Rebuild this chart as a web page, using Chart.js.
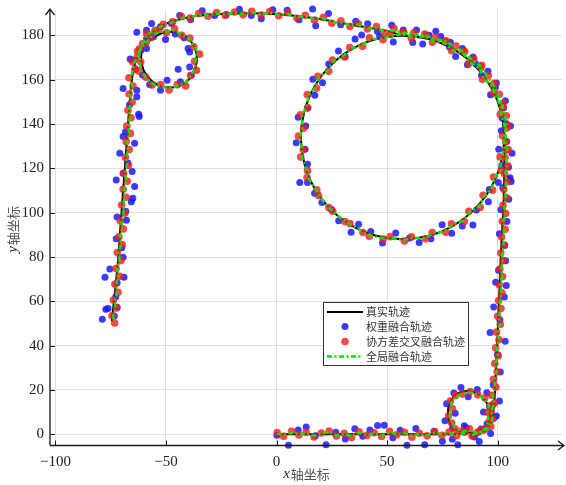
<!DOCTYPE html>
<html>
<head>
<meta charset="utf-8">
<script src="https://cdn.jsdelivr.net/npm/chart.js@4.4.1/dist/chart.umd.min.js"></script>
<style>
  html, body { margin: 0; padding: 0; background: #fff; }
</style>
</head>
<body>
<canvas id="trackChart" width="566" height="485"></canvas>
<script>
// Axis ticks
const xTicks = [-100, -50, 0, 50, 100];
const yTicks = [0, 20, 40, 60, 80, 100, 120, 140, 160, 180];

const seriesNames = ["真实轨迹", "权重融合轨迹", "协方差交叉融合轨迹", "全局融合轨迹"];

// Ground-truth trajectory [x, y]
const truePath = [
  [0,0],[20,0],[40,0],[60,0],[76,0],[84,0.2],[90,1],[94.5,3.5],[96.5,8],[95.5,13.5],[92,17.5],[87,19.5],
  [82,18.5],[78.5,14.5],[77.5,9],[79,4],[83,1.2],[89,0.5],[94,1.5],[97,5],[98.5,15],[99.2,29],[100.2,50],
  [101,70],[101.8,88],[102.7,105],[103,120],[103,134],
  [101.4,145.9],[96.8,157],[89.5,166.5],[80,173.8],[68.9,178.4],[57,180],[45.1,178.4],[34,173.8],[24.5,166.5],
  [17.2,157],[12.6,145.9],[11,134],[12.6,122.1],[17.2,111],[24.5,101.5],[34,94.2],[45.1,89.6],[57,88],
  [68.9,89.6],[80,94.2],[89.5,101.5],[96.8,111],[101.4,122.1],[103,134],[101.4,145.9],[96.8,157],[89.5,166.5],
  [80,173.8],[68.9,178.4],[57,180],
  [50,182],[40,183.8],[30,185.5],[20,187.3],[10,188.7],[0,189.6],[-10,190],[-20,189.9],[-30,189.4],[-38,188.6],
  [-44,187.2],[-50,185.3],[-55,182.5],[-59,178.5],[-61,173],[-61,167],[-58.5,161.5],[-54,157.8],[-48,156.5],
  [-42,158.2],[-38,162.5],[-36,168.5],[-37,174.5],[-40.5,179],[-46,181.5],[-52,181],[-57,178],[-61,174],
  [-63.5,169],[-65,163],[-66,155],[-67.5,135],[-69,115],[-70.5,95],[-72,75],[-74.5,51]
];

// Weighted fusion estimates
const weightedPts = [
  [0.2,-0.4],[5.4,-5.0],[9.8,1.9],[13.4,3.3],[17.6,-0.7],[22.4,-4.7],[26.8,0.9],[31.1,-2.1],[35.4,2.5],[39.0,-0.9],
  [42.2,1.9],[45.7,4.0],[48.7,4.1],[52.6,-1.6],[55.9,1.8],[59.0,-5.0],[63.0,2.6],[67.0,-4.7],[71.2,1.4],[75.0,-3.1],
  [79.5,-2.2],[82.0,-4.7],[85.8,2.9],[89.6,-1.2],[91.7,-3.2],[95.2,4.8],[98.3,7.5],[93.6,10.1],[97.9,13.4],[95.1,18.7],
  [90.8,20.2],[86.7,16.9],[83.4,21.1],[80.2,18.6],[76.9,13.8],[80.8,9.5],[76.2,6.1],[79.6,2.8],[84.9,3.9],[88.8,-0.5],
  [92.5,2.4],[96.8,0.3],
  [99.4,8.2],[100.8,15.0],[96.3,12.5],[98.0,22.4],[101.2,28.1],[99.9,36.0],[103.4,42.0],[96.6,45.9],[101.0,51.6],
  [98.2,57.5],[103.0,62.0],[99.1,68.6],[103.9,67.2],[103.6,78.3],[100.4,74.0],[103.1,85.2],[100.8,90.5],[104.2,96.0],
  [101.5,101.4],[105.0,106.1],[102.3,111.3],[105.6,115.8],[101.9,121.4],
  [103.9,140.3],[102.0,142.8],[101.7,137.0],[102.7,147.4],[96.8,153.2],[99.4,158.6],[92.7,162.1],[86.3,166.8],
  [88.9,170.3],[81.0,170.5],[78.6,176.9],[74.3,179.5],[72.0,181.9],[66.1,176.2],[61.6,176.8],[57.3,182.5],[52.8,177.1],
  [45.6,181.9],[38.5,180.2],[35.5,178.4],[31.0,170.5],[28.0,173.0],[23.6,167.1],[20.8,158.7],[16.4,160.2],[17.3,153.0],
  [14.0,147.2],[9.8,143.1],[13.2,139.2],[12.9,128.7],[8.9,131.6],[14.0,121.9],[10.5,113.6],[14.0,113.6],[17.2,108.8],
  [20.5,104.6],[24.9,101.5],[28.1,96.4],[33.7,91.2],[37.1,94.8],[42.6,91.5],[47.9,86.3],[53.9,90.8],[60.0,88.5],
  [64.5,86.6],[69.8,88.2],[74.9,94.6],[79.2,90.7],[84.0,94.0],[88.8,94.5],[90.4,101.2],[95.8,104.9],[96.2,110.5],
  [100.3,113.6],[104.9,115.0],[106.1,114.1],[104.9,120.5],[106.5,126.9],[100.5,128.7],[104.1,132.2],
  [105.8,139.2],[103.5,150.5],[98.9,156.4],[95.6,163.8],[90.1,167.1],[84.1,174.1],[78.2,174.8],[69.0,180.1],[63.3,182.5],
  [52.1,184.6],[46.6,179.6],[41.2,185.3],[35.8,186.4],[29.0,184.8],[23.5,189.9],[17.7,184.4],[16.3,192.0],[10.2,187.1],
  [4.8,191.4],[-1.7,191.6],[-6.9,187.6],[-11.4,189.0],[-16.8,191.8],[-22.7,189.5],[-28.0,189.0],[-33.6,191.2],
  [-38.9,187.1],[-43.8,189.0],
  [-47.5,185.4],[-52.5,183.9],[-56.5,185.4],[-58.8,182.4],[-55.7,179.4],[-63.2,181.5],[-58.8,174.1],[-64.7,168.8],
  [-60.6,162.2],[-63.9,165.0],[-57.4,157.9],[-52.5,155.3],[-49.5,159.8],[-43.5,159.1],[-38.5,162.1],[-44.5,164.8],
  [-39.3,165.8],[-39.3,172.6],[-40.0,174.1],[-41.8,179.0],[-45.8,180.7],[-50.2,178.2],[-58.8,178.5],[-61.4,173.3],
  [-66.2,169.4],
  [-69.4,156.1],[-63.2,155.3],[-63.2,152.3],[-66.5,148.7],[-62.4,144.4],[-62.1,143.4],[-68.3,136.6],[-69.4,134.4],
  [-64.2,131.4],[-70.9,126.9],[-67.2,122.4],[-65.3,118.6],[-69.4,117.8],[-72.5,114.8],[-64.2,111.8],[-65.0,106.5],
  [-65.7,105.0],[-68.2,100.7],[-72.1,98.1],[-67.9,96.6],[-72.5,88.3],[-70.0,84.2],[-69.4,79.9],[-75.4,74.6],
  [-77.6,70.9],[-69.0,70.9],[-72.1,68.4],[-72.7,62.1],[-77.2,56.4],[-76.2,56.8],[-72.1,57.3],[-73.4,53.4],[-78.8,51.9]
];

// Covariance intersection fusion estimates
const ciPts = [
  [0.3,0.8],[3.2,-0.9],[6.8,1.4],[10.1,-0.3],[13.4,0.9],[16.9,-1.2],[20.2,0.6],[23.8,1.5],[27.1,-0.8],[30.6,0.4],
  [33.9,-1.4],[37.3,1.1],[40.8,-0.5],[44.2,0.7],[47.5,-1.0],[51.1,1.3],[54.4,-0.2],[57.9,0.9],[61.2,-1.3],[64.6,0.5],
  [68.1,-0.7],[71.5,1.2],[74.8,-0.4],[78.0,1.0],
  [81.5,-0.6],[85.0,0.9],[88.4,-0.8],[91.6,1.3],[94.8,2.8],[96.4,6.2],[95.5,9.8],[96.8,13.0],[94.2,16.4],[91.0,17.8],
  [87.6,19.3],[84.1,18.2],[81.0,17.5],[78.6,15.0],[79.5,11.6],[77.8,8.4],[79.2,5.1],[80.8,2.4],[83.9,1.6],[87.2,2.5],
  [90.6,0.7],[93.8,1.9],[96.9,3.5],
  [97.8,7.0],[96.9,10.4],[98.6,14.1],[97.4,17.6],[99.2,21.3],[98.1,24.8],[99.8,28.2],[98.7,31.9],[100.3,35.4],
  [99.1,39.0],[100.6,42.7],[99.5,46.1],[101.2,49.6],[100.0,53.3],[101.5,56.8],[100.4,60.4],[101.9,63.9],[100.7,67.5],
  [102.2,71.2],[101.0,74.6],[102.5,78.3],[101.4,81.8],[103.1,85.4],[101.8,89.0],[103.4,92.5],[102.1,96.1],[103.6,99.7],
  [102.4,103.3],[104.0,106.8],[102.8,110.5],[104.3,114.0],[103.1,117.6],[104.6,121.2],[103.3,124.8],[104.8,128.4],
  [103.6,132.0],
  [104.1,138.2],[101.2,144.5],[102.3,147.6],[98.1,153.9],[98.0,157.4],[93.1,160.2],[92.4,165.9],[86.9,167.4],
  [84.8,172.6],[79.2,173.1],[76.4,177.3],[70.5,176.9],[67.3,180.2],[61.0,178.8],[57.6,181.3],[51.5,180.4],[48.1,178.1],
  [42.0,178.9],[38.9,175.1],[33.1,174.6],[30.8,170.3],[25.3,168.9],[23.6,163.8],[18.7,161.6],[18.1,156.2],[13.9,153.3],
  [14.1,147.5],[10.8,144.2],[12.2,138.1],[9.9,134.6],[12.1,128.5],[10.9,125.1],[14.0,119.0],[13.8,115.9],[18.2,110.3],
  [19.0,107.8],[23.7,102.3],[25.4,100.7],[30.9,96.0],[33.2,95.1],[39.1,91.1],[42.0,89.4],[48.2,88.1],[51.4,89.2],
  [57.8,87.2],[61.0,89.1],[67.4,88.2],[70.4,91.1],[76.5,91.2],[79.1,95.0],[84.9,96.0],[87.0,100.7],[92.1,102.4],
  [93.4,107.9],[97.7,110.2],[98.1,116.1],[101.7,119.1],[101.1,125.2],[103.8,128.5],[102.2,134.7],
  [104.6,139.3],[103.9,143.8],[102.5,149.3],[100.8,153.4],[98.4,158.3],[95.8,162.0],[92.8,166.5],[89.2,169.4],
  [85.1,172.8],[81.2,175.2],[76.6,177.6],[71.9,179.1],[67.0,180.6],[62.1,181.2],[57.2,181.5],
  [53.1,183.2],[49.0,181.1],[45.2,184.0],[41.1,182.9],[37.0,185.3],[33.2,184.0],[29.1,186.6],[25.0,185.5],[21.2,188.2],
  [17.1,187.0],[13.0,189.1],[9.2,187.8],[5.1,190.3],[1.0,188.9],[-3.1,190.8],[-7.0,189.2],[-11.2,190.9],[-15.1,189.3],
  [-19.0,190.6],[-23.2,189.0],[-27.1,190.3],[-31.0,188.7],[-35.2,189.9],[-39.1,187.9],[-43.0,188.6],
  [-47.0,186.2],[-51.2,185.0],[-54.9,182.3],[-58.8,180.9],[-60.6,176.3],[-62.9,172.8],[-61.4,168.0],[-62.2,163.9],
  [-59.1,161.2],[-56.3,157.6],[-52.4,157.9],[-48.6,155.4],[-44.9,157.8],[-41.1,157.2],[-38.9,161.9],[-36.2,164.3],
  [-37.1,168.4],[-34.8,171.6],[-37.4,174.9],[-39.2,178.8],[-42.9,180.1],[-46.1,183.0],[-49.8,181.2],[-53.4,182.5],
  [-56.7,179.1],[-59.0,176.8],[-62.1,173.9],[-63.0,170.2],[-65.2,168.1],[-64.1,164.6],
  [-66.8,160.9],[-64.9,157.2],[-66.7,153.6],[-65.3,150.0],[-67.2,146.3],[-65.8,142.9],[-67.7,139.1],[-66.1,135.8],
  [-68.0,132.2],[-66.6,128.5],[-68.4,125.0],[-67.0,121.3],[-69.1,117.8],[-67.5,114.2],[-69.4,110.6],[-68.0,107.0],
  [-70.1,103.5],[-68.6,99.8],[-70.7,96.3],[-69.3,92.7],[-71.3,89.1],[-69.8,85.6],[-72.0,82.0],[-70.4,78.4],
  [-72.6,74.8],[-71.0,71.3],[-73.1,67.7],[-71.7,64.1],[-73.8,60.6],[-72.3,57.0],[-74.4,53.5],[-73.2,50.2]
];

// Global fusion estimates
const globalPts = [
  [0.2,0.4],[3.4,-0.4],[6.9,0.8],[10.2,-0.1],[13.5,0.6],[17.0,-0.7],[20.3,0.4],[23.7,0.9],[27.0,-0.5],[30.5,0.3],
  [34.0,-0.8],[37.4,0.7],[40.9,-0.3],[44.2,0.5],[47.6,-0.6],[51.0,0.8],[54.5,-0.1],[57.9,0.6],[61.3,-0.8],[64.7,0.3],
  [68.1,-0.4],[71.5,0.8],[74.9,-0.2],[78.1,0.6],
  [81.6,-0.3],[85.0,0.6],[88.4,-0.4],[91.7,0.9],[94.6,2.6],[95.9,6.0],[95.4,9.9],[96.1,13.1],[93.8,16.2],[90.9,17.9],
  [87.5,18.9],[84.2,18.3],[81.2,17.0],[79.0,14.6],[79.1,11.5],[78.3,8.3],[79.4,5.0],[80.9,2.7],[84.0,1.2],[87.3,1.8],
  [90.6,0.6],[93.8,1.4],[96.6,3.4],
  [97.7,7.1],[97.3,10.5],[98.4,14.1],[97.8,17.6],[98.9,21.2],[98.5,24.8],[99.5,28.3],[99.0,31.9],[100.1,35.4],
  [99.6,39.0],[100.5,42.6],[100.0,46.2],[101.0,49.7],[100.5,53.3],[101.4,56.8],[100.9,60.4],[101.7,63.9],[101.2,67.5],
  [102.0,71.1],[101.5,74.6],[102.3,78.2],[101.9,81.8],[102.8,85.4],[102.3,89.0],[103.1,92.6],[102.6,96.1],[103.4,99.7],
  [102.9,103.3],[103.7,106.8],[103.2,110.4],[104.0,114.0],[103.5,117.6],[104.2,121.2],[103.7,124.8],[104.3,128.4],
  [103.8,132.0],
  [103.4,138.5],[101.6,144.0],[101.5,147.9],[98.6,153.3],[97.4,157.2],[93.7,160.6],[91.8,165.3],[87.4,167.8],
  [84.4,171.9],[79.6,173.4],[76.0,176.6],[70.9,177.4],[67.0,179.6],[61.4,179.2],[57.3,180.6],[51.9,180.0],[47.8,178.6],
  [42.4,178.3],[38.6,175.6],[33.6,174.2],[30.4,170.8],[25.8,168.5],[23.2,164.3],[19.3,161.3],[17.6,156.6],[14.5,153.0],
  [13.6,147.9],[11.4,143.9],[11.7,138.5],[10.5,134.3],[11.7,128.9],[11.5,124.7],[13.6,119.4],[14.4,115.6],[17.7,110.7],
  [19.4,107.4],[23.2,102.8],[25.8,100.2],[30.4,96.4],[33.6,94.6],[38.7,91.6],[42.4,89.8],[47.8,88.6],[51.8,88.8],
  [57.4,87.6],[61.4,88.7],[67.0,88.6],[70.8,90.6],[76.1,91.6],[79.6,94.6],[84.4,96.4],[87.4,100.2],[91.6,102.8],
  [93.8,107.4],[97.2,110.6],[98.6,115.7],[101.2,119.5],[101.6,124.8],[103.2,128.9],[102.6,134.4],
  [104.2,139.1],[103.3,143.6],[102.1,149.1],[100.3,153.1],[97.9,158.1],[95.4,161.5],[92.3,166.2],[88.9,168.6],
  [84.9,172.5],[80.9,174.6],[76.5,177.4],[71.6,178.5],[66.9,180.2],[62.0,180.5],[57.1,181.2],
  [53.0,182.5],[49.1,181.6],[45.1,183.5],[41.1,183.2],[37.0,184.9],[33.1,184.6],[29.1,186.1],[25.1,186.0],[21.1,187.7],
  [17.1,187.5],[13.0,188.6],[9.1,188.3],[5.1,189.7],[1.0,189.3],[-3.0,190.3],[-7.0,189.6],[-11.1,190.4],[-15.0,189.7],
  [-19.0,190.2],[-23.1,189.4],[-27.1,189.9],[-31.0,189.0],[-35.1,189.4],[-39.0,188.2],[-42.9,187.9],
  [-46.9,186.0],[-51.0,184.8],[-54.8,182.7],[-58.4,180.4],[-60.4,176.5],[-62.3,172.5],[-61.6,168.2],[-61.5,164.1],
  [-59.0,161.0],[-56.0,158.2],[-52.5,157.3],[-48.7,156.0],[-44.9,157.3],[-41.5,158.4],[-38.9,161.9],[-36.7,165.1],
  [-36.8,168.6],[-35.5,171.9],[-37.3,175.3],[-39.5,178.5],[-43.0,180.4],[-46.3,182.3],[-49.8,181.7],[-53.3,181.6],
  [-56.5,179.3],[-59.1,176.6],[-61.7,173.6],[-63.0,170.0],[-64.6,167.4],[-64.7,164.4],
  [-66.2,160.7],[-65.3,157.1],[-66.3,153.5],[-65.6,150.0],[-66.9,146.3],[-66.2,142.9],[-67.3,139.1],[-66.6,135.8],
  [-67.7,132.2],[-67.0,128.5],[-68.1,125.0],[-67.5,121.3],[-68.6,117.8],[-68.0,114.2],[-69.1,110.6],[-68.5,107.0],
  [-69.7,103.5],[-69.1,99.8],[-70.3,96.3],[-69.7,92.7],[-70.9,89.1],[-70.3,85.6],[-71.5,82.0],[-70.9,78.4],
  [-72.1,74.8],[-71.5,71.3],[-72.6,67.7],[-72.1,64.1],[-73.3,60.6],[-72.8,57.0],[-73.9,53.5],[-73.5,50.4]
];

function toXY(pts) {
  return pts.map(p => ({ x: p[0], y: p[1] }));
}

const tickFont = { family: "'Liberation Serif', 'DejaVu Serif', serif", size: 15 };
const cjkFont = "'Noto Sans CJK SC', sans-serif";
const minusSign = v => String(v).replace("-", "\u2212");

// Axis lines with arrows, inward ticks, axis titles and the boxed legend
const axisDecor = {
  id: "axisDecor",
  afterDraw(chart) {
    const { ctx, chartArea: a, scales } = chart;
    const xs = scales.x, ys = scales.y;
    ctx.save();

    ctx.strokeStyle = "#1a1a1a";
    ctx.lineWidth = 1.3;
    ctx.beginPath();
    ctx.moveTo(a.left, a.bottom); ctx.lineTo(a.right + 2, a.bottom);
    ctx.moveTo(a.left, a.bottom); ctx.lineTo(a.left, a.top - 1);
    // arrow heads
    ctx.moveTo(a.right - 4, a.bottom - 4.5); ctx.lineTo(a.right + 2, a.bottom); ctx.lineTo(a.right - 4, a.bottom + 4.5);
    ctx.moveTo(a.left - 4.5, a.top + 5); ctx.lineTo(a.left, a.top - 1); ctx.lineTo(a.left + 4.5, a.top + 5);
    ctx.stroke();

    ctx.lineWidth = 1;
    ctx.beginPath();
    xTicks.forEach(v => {
      const px = Math.round(xs.getPixelForValue(v)) + 0.5;
      ctx.moveTo(px, a.bottom); ctx.lineTo(px, a.bottom - 5);
    });
    yTicks.forEach(v => {
      const py = Math.round(ys.getPixelForValue(v)) + 0.5;
      ctx.moveTo(a.left, py); ctx.lineTo(a.left + 5, py);
    });
    ctx.stroke();

    // axis titles: italic letter followed by the Chinese label
    function drawTitle(letter, cx, cy, angle) {
      ctx.save();
      ctx.translate(cx, cy);
      ctx.rotate(angle);
      ctx.textBaseline = "middle";
      ctx.font = "italic 15px 'Liberation Serif', serif";
      const w1 = ctx.measureText(letter).width;
      ctx.font = "13px " + cjkFont;
      const w2 = ctx.measureText("轴坐标").width;
      let x0 = -(w1 + w2) / 2;
      ctx.fillStyle = "#222";
      ctx.font = "italic 15px 'Liberation Serif', serif";
      ctx.fillText(letter, x0, 0);
      ctx.fillStyle = "#555";
      ctx.font = "13px " + cjkFont;
      ctx.fillText("轴坐标", x0 + w1 + 1, 0);
      ctx.restore();
    }
    drawTitle("x", 306, 474, 0);
    drawTitle("y", 13, 230, -Math.PI / 2);

    // legend
    const box = { x: 323.5, y: 302.5, w: 145, h: 63 };
    ctx.fillStyle = "#fff";
    ctx.fillRect(box.x, box.y, box.w, box.h);
    ctx.strokeStyle = "#333";
    ctx.lineWidth = 1;
    ctx.strokeRect(box.x, box.y, box.w, box.h);
    const rowY = [312, 326.5, 341.5, 356.5];
    const ds = chart.data.datasets;
    ds.forEach((d, i) => {
      const yy = rowY[i];
      if (d.showLine) {
        ctx.strokeStyle = d.borderColor;
        ctx.lineWidth = d.borderWidth;
        ctx.setLineDash(d.borderDash || []);
        ctx.beginPath();
        ctx.moveTo(327, yy); ctx.lineTo(363, yy);
        ctx.stroke();
        ctx.setLineDash([]);
      } else {
        ctx.fillStyle = d.backgroundColor;
        ctx.beginPath();
        ctx.arc(345, yy, d.pointRadius, 0, Math.PI * 2);
        ctx.fill();
      }
      ctx.fillStyle = "#333";
      ctx.font = "11px " + cjkFont;
      ctx.textBaseline = "middle";
      ctx.fillText(d.label, 366, yy);
    });
    ctx.restore();
  }
};

const ctx = document.getElementById("trackChart").getContext("2d");

const trackChart = new Chart(ctx, {
  type: "scatter",
  data: {
    datasets: [
      {
        label: seriesNames[0],
        data: toXY(truePath),
        showLine: true,
        borderColor: "#000",
        borderWidth: 2,
        pointRadius: 0,
        tension: 0.35,
        order: 4,
        clip: false
      },
      {
        label: seriesNames[1],
        data: toXY(weightedPts),
        backgroundColor: "rgba(25, 25, 255, 0.85)",
        borderWidth: 0,
        pointRadius: 3.5,
        order: 3,
        clip: false
      },
      {
        label: seriesNames[2],
        data: toXY(ciPts),
        backgroundColor: "rgba(255, 25, 25, 0.8)",
        borderWidth: 0,
        pointRadius: 3.8,
        order: 2,
        clip: false
      },
      {
        label: seriesNames[3],
        data: toXY(globalPts),
        showLine: true,
        borderColor: "#00e600",
        borderWidth: 2.5,
        borderDash: [5, 2.5, 2, 2.5],
        pointRadius: 0,
        order: 1,
        clip: false
      }
    ]
  },
  options: {
    responsive: false,
    animation: false,
    devicePixelRatio: 1,
    layout: { padding: { left: 0, right: 3, top: 10, bottom: 0 } },
    plugins: {
      legend: { display: false },
      tooltip: { enabled: false }
    },
    scales: {
      x: {
        type: "linear",
        min: -102.46,
        max: 129.1,
        afterFit: s => { s.height = 39.5; s.paddingLeft = 0; s.paddingRight = 0; },
        afterBuildTicks: s => { s.ticks = xTicks.map(v => ({ value: v })); },
        grid: { color: "#e0e0e0", drawTicks: false },
        border: { display: false },
        ticks: { padding: 8, font: tickFont, color: "#222", callback: minusSign }
      },
      y: {
        type: "linear",
        min: -5.06,
        max: 191.5,
        afterFit: s => { s.width = 50; s.paddingTop = 0; s.paddingBottom = 0; },
        afterBuildTicks: s => { s.ticks = yTicks.map(v => ({ value: v })); },
        grid: { color: "#e0e0e0", drawTicks: false },
        border: { display: false },
        ticks: { padding: 6, font: tickFont, color: "#222", callback: minusSign }
      }
    }
  },
  plugins: [axisDecor]
});
</script>
</body>
</html>
